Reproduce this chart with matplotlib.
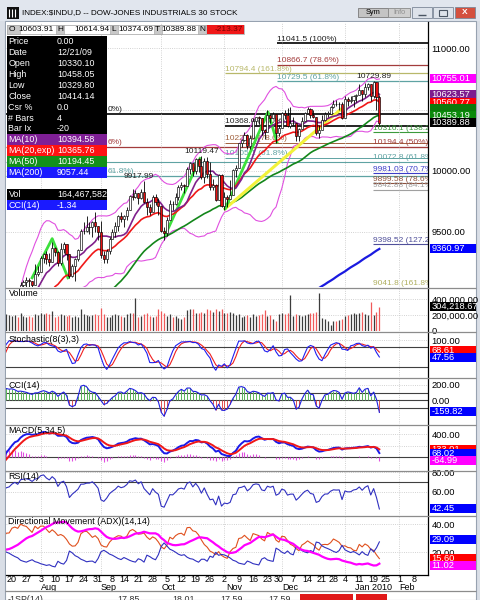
import numpy as np
import pandas as pd
import matplotlib
matplotlib.use("Agg")
import matplotlib.pyplot as plt
from matplotlib.patches import Rectangle
from matplotlib.transforms import blended_transform_factory

plt.rcParams['font.family'] = ['Liberation Sans', 'DejaVu Sans']

### DATA ###
# bars May 1 - Jul 15 2009, only used to warm up the studies
pre_close = [8212, 8426, 8410, 8512, 8409, 8575, 8418, 8469, 8284, 8331, 8268, 8504, 8475, 8423, 8294, 8277, 8473, 8300, 8403, 8500,
             8721, 8741, 8675, 8750, 8764, 8764, 8763, 8740, 8770, 8799, 8612, 8504, 8497, 8555, 8539, 8339, 8323, 8299, 8472, 8438, 8529, 8447,
             8504, 8280, 8324, 8163, 8178, 8184, 8147, 8332, 8359, 8616]
pre_high = [8260, 8430, 8440, 8520, 8580, 8640, 8560, 8520, 8470, 8380, 8360, 8510, 8560, 8580, 8420, 8350, 8480, 8480, 8430, 8510,
            8750, 8800, 8740, 8760, 8850, 8800, 8830, 8830, 8880, 8810, 8790, 8650, 8540, 8600, 8600, 8540, 8380, 8430, 8480, 8490, 8550, 8550,
            8600, 8500, 8330, 8330, 8210, 8240, 8200, 8340, 8380, 8620]
pre_low = [8150, 8210, 8350, 8370, 8380, 8410, 8400, 8380, 8270, 8270, 8240, 8270, 8450, 8400, 8200, 8240, 8260, 8290, 8250, 8380,
           8500, 8690, 8620, 8650, 8700, 8650, 8720, 8670, 8740, 8730, 8590, 8490, 8450, 8480, 8510, 8320, 8290, 8290, 8280, 8410, 8430, 8390,
           8450, 8270, 8190, 8150, 8090, 8150, 8110, 8150, 8300, 8360]

# daily bars Jul 16 2009 - Jan 21 2010 (jul / aug / sep / oct / nov / dec / jan rows)
opens = [8616, 8711, 8743, 8848, 8916, 8881, 9069, 9093, 9108, 9097, 9070, 9154,
         9172, 9286, 9320, 9280, 9256, 9370, 9338, 9242, 9362, 9398, 9321, 9136, 9218, 9280, 9350, 9506, 9509, 9540, 9543, 9581, 9545,
         9496, 9310, 9280, 9344, 9441, 9497, 9547, 9627, 9605, 9626, 9683, 9791, 9784, 9821, 9778, 9829, 9748, 9707, 9665, 9789, 9742,
         9712, 9509, 9488, 9599, 9731, 9726, 9787, 9865, 9885, 9871, 10016, 10063, 9996, 10093, 10041, 9949, 10082, 9972, 9868, 9882, 9762, 9962,
         9713, 9789, 9772, 9803, 10005, 10023, 10227, 10247, 10291, 10198, 10271, 10406, 10437, 10427, 10333, 10319, 10451, 10434, 10464, 10310,
         10345, 10471, 10453, 10367, 10389, 10390, 10286, 10338, 10406, 10471, 10501, 10452, 10442, 10309, 10330.10, 10414, 10464, 10466, 10520, 10548, 10545, 10548,
         10430, 10584, 10572, 10574, 10607, 10618, 10663, 10628, 10681, 10711, 10609, 10726, 10603.91]
highs = [8730, 8760, 8870, 8930, 8950, 9090, 9110, 9130, 9120, 9100, 9240, 9220,
         9300, 9330, 9340, 9330, 9420, 9380, 9340, 9410, 9420, 9400, 9321, 9240, 9290, 9360, 9520, 9580, 9630, 9580, 9590, 9660, 9545,
         9590, 9340, 9360, 9460, 9520, 9580, 9640, 9660, 9640, 9700, 9800, 9850, 9840, 9821, 9850, 9918, 9780, 9730, 9800, 9810, 9780,
         9712, 9540, 9620, 9760, 9750, 9820, 9880, 9910, 9890, 10030, 10070, 10063, 10100, 10100, 10119, 10100, 10110, 10070, 9930, 9890, 9970, 9970,
         9830, 9800, 9920, 10010, 10050, 10230, 10260, 10320, 10300, 10290, 10430, 10440, 10450, 10427, 10340, 10500, 10460, 10480, 10464, 10370,
         10480, 10500, 10510, 10520, 10440, 10390, 10350, 10440, 10480, 10520, 10510, 10500, 10442, 10370, 10458.05, 10480, 10490, 10525, 10580, 10580, 10560, 10560,
         10610, 10600, 10610, 10620, 10630, 10710, 10663, 10720, 10720, 10711, 10729.89, 10726, 10614.94]
lows = [8590, 8680, 8743, 8810, 8850, 8870, 9010, 9050, 9020, 8990, 9070, 9140,
        9172, 9250, 9240, 9220, 9256, 9300, 9220, 9230, 9330, 9270, 9120, 9130, 9100, 9260, 9350, 9480, 9500, 9480, 9460, 9500, 9430,
        9290, 9250, 9250, 9320, 9441, 9460, 9510, 9580, 9540, 9600, 9683, 9760, 9780, 9730, 9770, 9740, 9640, 9640, 9665, 9720, 9640,
        9500, 9430, 9470, 9599, 9680, 9720, 9760, 9840, 9820, 9871, 9970, 9960, 9970, 9990, 9930, 9900, 9940, 9840, 9840, 9750, 9762, 9700,
        9680, 9700, 9770, 9800, 9950, 10023, 10190, 10240, 10180, 10180, 10271, 10370, 10380, 10290, 10260, 10319, 10390, 10430, 10230, 10280,
        10345, 10420, 10360, 10350, 10370, 10240, 10240, 10338, 10406, 10471, 10430, 10430, 10290, 10270, 10329.80, 10410, 10440, 10466, 10510, 10530, 10500, 10420,
        10430, 10530, 10550, 10520, 10560, 10618, 10570, 10600, 10660, 10570, 10590, 10500, 10374.69]
closes = [8711, 8743, 8848, 8916, 8881, 9069, 9093, 9108, 9097, 9070, 9154, 9172,
          9286, 9320, 9280, 9256, 9370, 9338, 9242, 9362, 9398, 9321, 9136, 9218, 9280, 9350, 9506, 9509, 9540, 9543, 9581, 9545, 9496,
          9310, 9280, 9344, 9441, 9497, 9547, 9627, 9605, 9626, 9683, 9791, 9784, 9821, 9778, 9829, 9748, 9707, 9665, 9789, 9742, 9712,
          9509, 9488, 9599, 9731, 9726, 9787, 9865, 9885, 9871, 10016, 10063, 9996, 10093, 10041, 9949, 10082, 9972, 9868, 9882, 9762, 9962, 9713,
          9789, 9772, 9803, 10005, 10023, 10227, 10247, 10291, 10198, 10271, 10406, 10437, 10427, 10333, 10319, 10451, 10434, 10464, 10310, 10345,
          10471, 10453, 10367, 10389, 10390, 10286, 10338, 10406, 10471, 10501, 10452, 10442, 10309, 10329, 10414.14, 10464, 10466, 10520, 10548, 10545, 10548, 10428,
          10584, 10572, 10574, 10607, 10618, 10663, 10628, 10681, 10711, 10609, 10726, 10604, 10389.88]
volume = [210, 200, 190, 200, 180, 230, 190, 170, 190, 180, 210, 200,
          230, 210, 220, 210, 250, 170, 190, 210, 200, 190, 200, 180, 190, 180, 280, 210, 200, 190, 200, 210, 200,
          290, 210, 180, 170, 200, 210, 200, 190, 180, 210, 230, 220, 410, 170, 190, 210, 220, 190, 180, 190, 270,
          250, 220, 190, 210, 170, 190, 160, 150, 180, 260, 270, 280, 220, 230, 240, 230, 270, 260, 240, 280, 250, 280,
          230, 220, 240, 220, 200, 210, 180, 190, 200, 180, 210, 190, 200, 210, 260, 190, 200, 150, 120, 210,
          220, 210, 230, 450, 190, 210, 200, 190, 200, 210, 220, 230, 240, 470, 160, 150, 130, 80, 120, 130, 140, 150,
          190, 200, 210, 220, 210, 220, 240, 210, 200, 360, 200, 240, 304.22]

# MA(200), Dec 17 2009 - Jan 21 2010
ma200_tail = [9028, 9042, 9057, 9071, 9087, 9101, 9116, 9133, 9149, 9163, 9177, 9194,
              9210, 9224, 9238, 9253, 9270, 9286, 9300, 9314, 9331, 9347, 9361]
ma200_first = 106

day_labels = ['20', '27', '3', '10', '17', '24', '31', '8', '14', '21', '28', '5', '12', '19', '26',
              '2', '9', '16', '23', '30', '7', '14', '21', '28', '4', '11', '19', '25', '1', '8']
day_idx = [0, 5, 10, 15, 20, 25, 30, 35, 39, 44, 49, 54, 59, 64, 69, 74, 79, 84, 89, 93, 98, 103, 108, 112,
           116, 121, 126, 130, 135, 140]
month_labels = ['Aug', 'Sep', 'Oct', 'Nov', 'Dec', 'Jan 2010', 'Feb']
month_idx = [10, 31, 52, 74, 94, 116, 135]

# swing lines (bar index, price)
zig1 = ([7, 14, 19.5], [9125, 9445, 9125])
zig2 = ([53.5, 65.5], [9480, 10100])
zig3 = ([74.3, 89.2, 92.3], [9690, 10480, 10235])
trend_yellow = ([74.3, 114.5], [9690, 10500])

# fib levels; the three left-hand labels are hidden by the data window except their tails
fib_levels = [11041.5, 10866.7, 10794.4, 10729.5, 10467.3, 10368.0, 10228.6, 10105.1, 10194.4, 9957.3,
              10316.1, 10194.4, 10072.8, 9981.03, 9899.58, 9842.88, 9398.52, 9041.8]
fib_texts = ['11041.5 (100%)', '10866.7 (78.6%)', '10794.4 (161.8%)', '10729.5 (61.8%)', '0%)',
             '10368.0 (100%)', '10228.6 (78.6%)', '10105.1 (61.8%)', '6%)', '61.8%)',
             '10316.1 (138.2%)', '10194.4 (50%)', '10072.8 (61.8%)', '9981.03 (70.7%)', '9899.58 (78.6%)',
             '9842.88 (84.1%)', '9398.52 (127.2%)', '9041.8 (161.8%)']

swing_idx = [44, 66, 126]
swing_price = [9917.99, 10119.47, 10729.89]

strip_keys = ['O', 'H', 'L', 'T', 'N']
strip_vals = ['10603.91', '10614.94', '10374.69', '10389.88', '-213.37']

info_keys = ['Price', 'Date', 'Open', 'High', 'Low', 'Close', 'Csr %', '# Bars', 'Bar Ix',
             'MA(10)', 'MA(20,exp)', 'MA(50)', 'MA(200)', '', 'Vol', 'CCI(14)']
info_vals = ['0.00', '12/21/09', '10330.10', '10458.05', '10329.80', '10414.14', '0.0', '4', '-20',
             '10394.58', '10365.76', '10194.45', '9057.44', '', '164,467,582', '-1.34']

price_boxes = [10755.01, 10623.57, 10560.77, 10505.40, 10453.19, 10389.88, 9360.97]
vol_box = 304.22
stoch_boxes = [68.61, 47.56]
cci_box = -159.82
macd_boxes = [133.01, 68.02, -64.99]
rsi_box = 42.45
adx_boxes = [29.09, 15.60, 11.02]

### STUDIES ###
n_pre = len(pre_close)
c = pd.Series(pre_close + closes, dtype=float)
h = pd.Series(pre_high + highs, dtype=float)
l = pd.Series(pre_low + lows, dtype=float)
xa = np.arange(len(c)) - n_pre - 2
xv = np.arange(len(closes)) - 2

ma10 = c.rolling(10).mean()
ema20 = c.ewm(span=20, adjust=False).mean()
ma50 = c.rolling(50).mean()
mid = c.rolling(20).mean()
sd = c.rolling(20).std(ddof=0)
bb_up, bb_lo = mid + 2 * sd, mid - 2 * sd

ll8, hh8 = l.rolling(8).min(), h.rolling(8).max()
k_raw = 100 * (c - ll8) / (hh8 - ll8)
stoch_k = k_raw.rolling(3).mean()
stoch_d = stoch_k.rolling(3).mean()

tp = (h + l + c) / 3
md = tp.rolling(14).apply(lambda v: np.mean(np.abs(v - v.mean())), raw=True)
cci = (tp - tp.rolling(14).mean()) / (0.015 * md)

macd = c.ewm(span=5, adjust=False).mean() - c.ewm(span=34, adjust=False).mean()
signal = macd.ewm(span=5, adjust=False).mean()
hist = macd - signal

delta = c.diff()
gain = delta.clip(lower=0).ewm(alpha=1 / 14, adjust=False).mean()
loss = (-delta.clip(upper=0)).ewm(alpha=1 / 14, adjust=False).mean()
rsi = 100 - 100 / (1 + gain / loss)

up_move, dn_move = h.diff(), -l.diff()
pdm = pd.Series(np.where((up_move > dn_move) & (up_move > 0), up_move, 0.0))
mdm = pd.Series(np.where((dn_move > up_move) & (dn_move > 0), dn_move, 0.0))
tr = pd.concat([h - l, (h - c.shift()).abs(), (l - c.shift()).abs()], axis=1).max(axis=1)
atr = tr.ewm(alpha=1 / 14, adjust=False).mean()
pdi = 100 * pdm.ewm(alpha=1 / 14, adjust=False).mean() / atr
mdi = 100 * mdm.ewm(alpha=1 / 14, adjust=False).mean() / atr
dx = 100 * (pdi - mdi).abs() / (pdi + mdi)
adx = dx.ewm(alpha=1 / 14, adjust=False).mean()

vis = xa >= -3

### FIGURE ###
W, H = 481, 600
PL, PR = 6, 428
XLO, XHI = (PL - 12) / 2.87, (PR - 12) / 2.87

fig = plt.figure(figsize=(4.81, 6.0), dpi=100)
fig.patch.set_facecolor('#d9dee6')

bg = fig.add_axes([0, 0, 1, 1], zorder=0)
bg.set_xlim(0, W); bg.set_ylim(H, 0); bg.axis('off')
bg.add_patch(Rectangle((0, 0), W, 21, fc='#e1e6ee', ec='none'))
bg.add_patch(Rectangle((5, 21), 471, 579, fc='white', ec='#97a2b0', lw=0.8))


def panel(top, bot, ylo, yhi, ticks, labels=None):
    ax = fig.add_axes([PL / W, 1 - bot / H, (PR - PL) / W, (bot - top) / H], zorder=1)
    ax.set_xlim(XLO, XHI)
    ax.set_ylim(ylo, yhi)
    for s in ('top', 'bottom', 'left'):
        ax.spines[s].set_visible(False)
    ax.spines['right'].set_linewidth(0.9)
    ax.yaxis.tick_right()
    ax.set_yticks(ticks)
    ax.set_yticklabels(labels if labels else ['%.2f' % t for t in ticks])
    ax.tick_params(axis='y', length=0, pad=2.5, labelsize=6.7)
    ax.set_xticks(month_idx)
    ax.tick_params(axis='x', length=0, labelbottom=False)
    ax.grid(True, ls=':', lw=0.6, color='#c4c4c4')
    return ax


def value_box(ax, val, txt, fc, z, tc='white'):
    trf = blended_transform_factory(ax.transAxes, ax.transData)
    pos = ax.get_position()
    axw, axh = pos.width * W, pos.height * H
    lo, hi = ax.get_ylim()
    bh = 9.0 * (hi - lo) / axh
    ax.add_patch(Rectangle((1 + 2 / axw, val - bh / 2), 46 / axw, bh, transform=trf, clip_on=False,
                           fc=fc, ec='none', zorder=z))
    if txt:
        ax.text(1 + 3.5 / axw, val, txt, transform=trf, clip_on=False, color=tc, fontsize=6.7,
                va='center', ha='left', zorder=z + 0.5)


# price panel
ax = panel(22, 287, 11000 - (287 - 48.3) / 0.1224, 11000 + (48.3 - 22) / 0.1224,
           [9500, 10000, 10500, 11000], ['9500.00', '10000.00', '', '11000.00'])

# fib / level lines: start index, colour, line width, label x (None = at line start)
tail_x = (108 - 12) / 2.87
fib_style = [(92.3, 'black', 1.2, None), (92.3, '#a33c3c', 0.9, None), (74.3, '#b8b86a', 0.9, None), (92.3, '#5fa3a3', 0.9, None),
             (XLO, 'black', 1.2, tail_x), (74.3, 'black', 1.2, None), (74.3, '#a0603c', 0.7, None), (74.3, '#5fa3a3', 0.7, None),
             (XLO, '#a33c3c', 0.9, tail_x), (XLO, '#5fa3a3', 0.9, tail_x),
             (125.8, '#3c9a3c', 0.8, None), (125.8, '#a33c3c', 0.8, None), (XLO, '#5fa3a3', 0.8, 125.8), (125.8, '#3c3cc8', 0.8, None),
             (125.8, '#8c503c', 0.8, None), (125.8, '#a0a0a0', 0.8, None), (125.8, '#50509a', 0.8, None), (125.8, '#b0b060', 0.8, None)]
for lvl, txt, (x0, col, lw, tx) in zip(fib_levels, fib_texts, fib_style):
    ax.hlines(lvl, x0, XHI, color=col, lw=lw, zorder=1.5)
    tcol = col if col != 'black' else '#202020'
    ax.text(x0 if tx is None else tx, lvl + 4, txt, color=tcol, fontsize=6, va='bottom', ha='left',
            clip_on=True, zorder=1.6)

ax.plot(xa[vis], bb_up[vis], color='#e050e0', lw=0.8, zorder=2)
ax.plot(xa[vis], bb_lo[vis], color='#e050e0', lw=0.8, zorder=2)
ax.plot(xa[vis], ma50[vis], color='#13861a', lw=1.2, zorder=2.2)
ax.plot(np.arange(len(ma200_tail)) + ma200_first, ma200_tail, color='#1a1ae0', lw=1.6, zorder=2.2)
ax.plot(*trend_yellow, color='#f2f23a', lw=2.2, zorder=2.3)
for zx, zy in (zig1, zig2, zig3):
    ax.plot(zx, zy, color='#3ce03c', lw=2.0, zorder=2.3)
ax.plot(xa[vis], ema20[vis], color='#f01818', lw=1.2, zorder=2.4)
ax.plot(xa[vis], ma10[vis], color='#80208c', lw=1.2, zorder=2.4)

o_arr, c_arr = np.array(opens), np.array(closes)
up = c_arr >= o_arr
ax.vlines(xv, lows, highs, color='black', lw=0.6, zorder=3)
body_lo = np.minimum(o_arr, c_arr)
body_h = np.maximum(np.abs(c_arr - o_arr), 4)
ax.bar(xv, body_h, bottom=body_lo, width=0.72, color=np.where(up, 'white', '#e81010'),
       edgecolor='black', linewidth=0.45, zorder=3.1)

for sx, sp in zip(swing_idx, swing_price):
    ax.text(sx, sp + 38, '%.2f' % sp, fontsize=6, color='#202020', ha='center', va='center', zorder=4)

box_cols = ['#ff00ff', '#7d1d8e', '#ff0000', '#0b7a0b', '#0b8a0b', '#000000', '#0000ff']
for k, (val, col) in enumerate(zip(price_boxes, box_cols)):
    # the fourth box sits almost fully under its neighbours, its figures can not be read
    value_box(ax, val, '' if k == 3 else '%.2f' % val, col, 5 + 2 * k)

# volume
axv = panel(288, 331, 0, 43 / 0.08, [0, 200, 400], ['0', '200,000.00', '400,000.00'])
axv.vlines(xv, 0, volume, colors=np.where(up, '#3c3c3c', '#f05a5a'), lw=0.9)
value_box(axv, vol_box, '304,218.67', 'black', 5)

# stochastic
axs = panel(333, 377, -(377 - 373.4) / 0.3337, (373.4 - 333) / 0.3337, [100])
axs.axhline(80, color='#404040', lw=0.8)
axs.axhline(20, color='#404040', lw=0.8)
axs.plot(xa[vis], stoch_d[vis], color='#f02020', lw=0.8)
axs.plot(xa[vis], stoch_k[vis], color='#2020f0', lw=0.8)
value_box(axs, stoch_boxes[0], '%.2f' % stoch_boxes[0], '#ff0000', 5)
value_box(axs, stoch_boxes[1], '%.2f' % stoch_boxes[1], '#0000ff', 7)

# CCI
axc = panel(379, 424, -(424 - 400) / 0.075, (400 - 379) / 0.075, [0, 200])
for lv in (100, 0, -100):
    axc.axhline(lv, color='#404040', lw=0.8)
cv = cci[vis].values
axc.vlines(xa[vis], 0, cv, colors=np.where(cv >= 0, '#5ab45a', '#e05050'), lw=0.7)
axc.plot(xa[vis], cv, color='#2020e0', lw=0.8)
value_box(axc, cci_box, '%.2f' % cci_box, '#0000ff', 5)

# MACD
axm = panel(425, 470, -(470 - 457) / 0.0575, (457 - 425) / 0.0575, [200, 400], ['', '400.00'])
axm.axhline(0, color='#404040', lw=0.8)
axm.vlines(xa[vis], 0, hist[vis], color='#e050e0', lw=0.8)
axm.plot(xa[vis], macd[vis], color='#1a1ae8', lw=1.4)
axm.plot(xa[vis], signal[vis], color='#f01818', lw=1.4)
for k, (val, col) in enumerate(zip(macd_boxes, ['#ff0000', '#0000ff', '#ff00ff'])):
    value_box(axm, val, '%.2f' % val, col, 5 + 2 * k)

# RSI
axr = panel(471, 515, 60 - (515 - 491.7) / 0.985, 60 + (491.7 - 471) / 0.985, [60, 80])
axr.axhline(70, color='#404040', lw=0.8)
axr.plot(xa[vis], rsi[vis], color='#3030c0', lw=0.8)
value_box(axr, rsi_box, '%.2f' % rsi_box, '#0000ff', 5)

# ADX
axd = panel(517, 575, 20 - (575 - 552.3) / 1.415, 20 + (552.3 - 517) / 1.415, [20, 40])
axd.spines['bottom'].set_visible(True)
axd.spines['bottom'].set_linewidth(0.9)
axd.plot(xa[vis], pdi[vis], color='#e0501e', lw=0.8)
axd.plot(xa[vis], mdi[vis], color='#3030c0', lw=0.8)
axd.plot(xa[vis], adx[vis], color='#ff00ff', lw=1.6)
for k, (val, col) in enumerate(zip(adx_boxes, ['#0000ff', '#ff0000', '#ff00ff'])):
    value_box(axd, val, '%.2f' % val, col, 5 + 2 * k)

for lbl, i in zip(day_labels, day_idx):
    axd.annotate(lbl, xy=(i, 0), xycoords=('data', 'axes fraction'), xytext=(0, -3.0),
                 textcoords='offset points', ha='center', va='center', fontsize=6.5, annotation_clip=False)
month_pos = [10, 31, 52, 74.5, 94, 119.5, 135]
for lbl, i in zip(month_labels, month_pos):
    axd.annotate(lbl, xy=(i, 0), xycoords=('data', 'axes fraction'), xytext=(0, -8.8),
                 textcoords='offset points', ha='left', va='center', fontsize=6.5, annotation_clip=False)

### OVERLAY: window chrome, info boxes, panel titles ###
ov = fig.add_axes([0, 0, 1, 1], zorder=10)
ov.set_xlim(0, W); ov.set_ylim(H, 0); ov.axis('off'); ov.patch.set_alpha(0)

for y in (287.5, 332, 378, 424.5, 470.5, 516):
    ov.hlines(y, 5, 476, color='#8c8c8c', lw=0.9)
ov.hlines(591, 5, 476, color='#8c8c8c', lw=0.9)

# title bar
ov.add_patch(Rectangle((7, 7), 12, 12, fc='#101010', ec='none'))
for xx in (9, 12, 15):
    ov.vlines(xx, 9, 17, color='white', lw=0.8)
ov.text(22, 12.5, 'INDEX:$INDU,D -- DOW-JONES INDUSTRIALS 30 STOCK', fontsize=5.9, va='center', ha='left')
ov.add_patch(Rectangle((358, 7.5), 30, 9.5, fc='#c4c4c4', ec='#7a7a7a', lw=0.6))
ov.text(373, 12.3, 'Sym', fontsize=5.3, va='center', ha='center')
ov.add_patch(Rectangle((388, 7.5), 22, 9.5, fc='#cfcfcf', ec='#8a8a8a', lw=0.6))
ov.text(399, 12.3, 'Info', fontsize=5.3, va='center', ha='center', color='#909090')
for bx, fc in ((412, '#dde2ea'), (433, '#dde2ea'), (455, '#d4503e')):
    ov.add_patch(Rectangle((bx, 6.5), 20, 11.5, fc=fc, ec='#7c8898', lw=0.6))
ov.hlines(14.5, 418, 426, color='#4a5563', lw=1.0)
ov.add_patch(Rectangle((439, 9.5), 8, 6, fc='none', ec='#4a5563', lw=0.8))
ov.text(465, 12.3, 'X', fontsize=6, color='white', ha='center', va='center', weight='bold')

# OHLC strip
ov.add_patch(Rectangle((7, 25), 237, 8.5, fc='white', ec='#a0a0a0', lw=0.5))
cells = [(7, 20, 21, 55), (56, 64, 65, 110), (110, 118, 119, 154), (154, 162, 163, 197), (198, 206, 207, 244)]
for (k0, k1, v0, v1), key, val in zip(cells, strip_keys, strip_vals):
    ov.add_patch(Rectangle((k0, 25), k1 - k0, 8.5, fc='#c8c8c8', ec='#a0a0a0', lw=0.4))
    ov.text(k0 + 1.5 if key == 'O' else k0 + 1, 29.3, key, fontsize=6, va='center', ha='left')
    if key == 'N':
        ov.add_patch(Rectangle((v0, 25), v1 - v0, 8.5, fc='#f01818', ec='none'))
        ov.text(v1 - 1, 29.3, val, fontsize=6, va='center', ha='right', color='#7a0000')
    else:
        ov.text(v1 - 1, 29.3, val, fontsize=6, va='center', ha='right')

# data window
row_bg = ['black'] * 9 + ['#7f1f96', '#ff1212', '#12901a', '#1a1aff', None, 'black', '#1a1aff']
rh = 10.9
for k, (key, val, fc) in enumerate(zip(info_keys, info_vals, row_bg)):
    if fc is None:
        continue
    y0 = 36 + k * rh
    ov.add_patch(Rectangle((7, y0), 100, rh, fc=fc, ec='none'))
    ov.text(8.5, y0 + rh / 2 + 0.3, key, fontsize=6.4, color='white', va='center', ha='left')
    ov.text(57, y0 + rh / 2 + 0.3, val, fontsize=6.4, color='white', va='center', ha='left')

# panel titles
for y, t in ((294, 'Volume'), (339.5, 'Stochastic(8(3),3)'), (385, 'CCI(14)'), (430.5, 'MACD(5,34,5)'),
             (476.5, 'RSI(14)'), (522, 'Directional Movement (ADX)(14,14)')):
    ov.text(8.5, y, t, fontsize=6.4, va='center', ha='left')

# cut-off row at the very bottom
for x, t in ((8, '-1SP(14)'), (117, '17.85'), (172, '18.01'), (220, '17.59'), (268, '17.59')):
    ov.text(x, 594.5, t, fontsize=6.4, va='top', ha='left', color='#303030')
ov.add_patch(Rectangle((300, 594), 53, 8, fc='#e01818', ec='none'))
ov.add_patch(Rectangle((356, 594), 31, 8, fc='#e01818', ec='none'))

fig.savefig('out.png', dpi=100)
